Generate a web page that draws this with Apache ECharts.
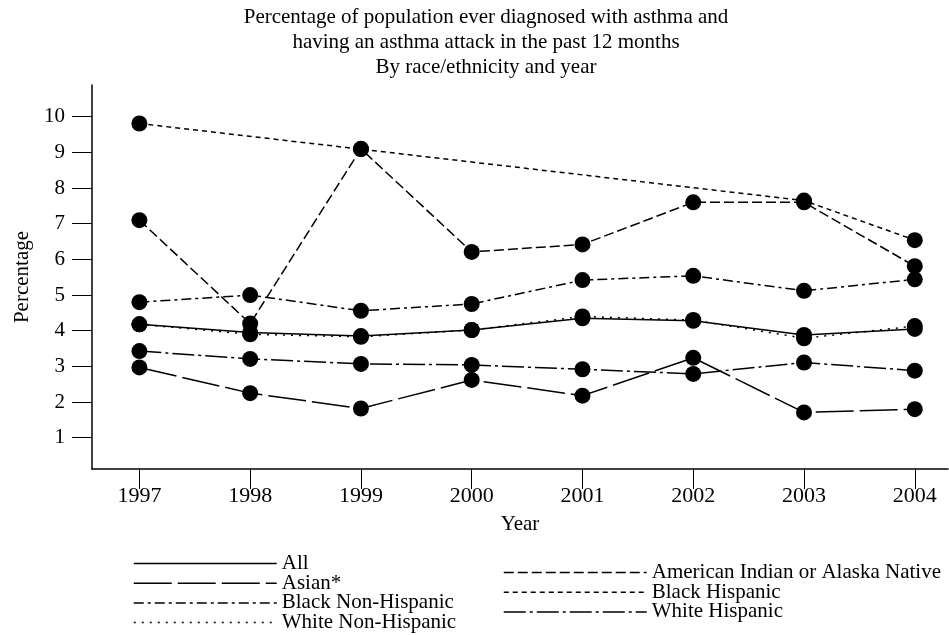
<!DOCTYPE html>
<html>
<head>
<meta charset="utf-8">
<script src="https://cdn.jsdelivr.net/npm/echarts@6/dist/echarts.min.js"></script>
<style>
  html, body { margin: 0; padding: 0; background: #fff; }
  #chart { width: 949px; height: 635px; }
</style>
</head>
<body>
<div id="chart"></div>
<script>
// Asthma attack prevalence (% of population) by race/ethnicity, 1997-2004
const years = [1997, 1998, 1999, 2000, 2001, 2002, 2003, 2004];
const yTicks = [1, 2, 3, 4, 5, 6, 7, 8, 9, 10];

const allRaces         = [4.18, 3.95, 3.85, 4.02, 4.35, 4.28, 3.88, 4.05];
const asian            = [2.97, 2.25, 1.82, 2.62, 2.18, 3.24, 1.71, 1.80];
const blackNonHispanic = [4.80, 5.00, 4.56, 4.75, 5.42, 5.54, 5.12, 5.44];
const whiteNonHispanic = [4.18, 3.90, 3.83, 4.02, 4.40, 4.30, 3.79, 4.13];
const amIndianAlaska   = [7.10, 4.20, 9.10, 6.21, 6.42, 7.60, 7.60, 5.81];
const blackHispanic    = [9.81, null, 9.09, null, null, null, 7.65, 6.54];
const whiteHispanic    = [3.43, 3.21, 3.07, 3.04, 2.92, 2.79, 3.11, 2.88];

const titleLines = [
  'Percentage of population ever diagnosed with asthma and',
  'having an asthma attack in the past 12 months',
  'By race/ethnicity and year'
];

const FONT = '"Liberation Serif", "Times New Roman", serif';
const INK = '#000';

function pairs(values) {
  return years.map((y, i) => [y, values[i]]);
}

function lineSeries(name, values, dash) {
  return {
    name: name,
    type: 'line',
    data: pairs(values),
    connectNulls: true,
    symbol: 'circle',
    symbolSize: 16,
    itemStyle: { color: INK },
    lineStyle: { color: INK, width: 1.5, type: dash },
    emphasis: { disabled: true },
    z: 3
  };
}

const series = [
  lineSeries('All', allRaces, 'solid'),
  lineSeries('Asian*', asian, [38, 6]),
  lineSeries('Black Non-Hispanic', blackNonHispanic, [10, 4, 3, 4]),
  lineSeries('White Non-Hispanic', whiteNonHispanic, [2, 6]),
  lineSeries('American Indian or Alaska Native', amIndianAlaska, [10, 4]),
  lineSeries('Black Hispanic', blackHispanic, [5, 4]),
  lineSeries('White Hispanic', whiteHispanic, [22, 4, 3, 4])
];

const legendCommon = {
  orient: 'vertical',
  padding: 0,
  height: 120,
  itemWidth: 143,
  itemHeight: 10,
  itemGap: -1.3,
  selectedMode: false,
  itemStyle: { opacity: 0 },
  lineStyle: { width: 1.5 },
  textStyle: { fontFamily: FONT, fontSize: 21, color: INK, lineHeight: 19.7 }
};

const chart = echarts.init(document.getElementById('chart'), null, { renderer: 'canvas' });
chart.setOption({
  animation: false,
  backgroundColor: '#fff',
  textStyle: { fontFamily: FONT, color: INK },
  grid: { left: 92, right: 1, top: 85, bottom: 166, outerBoundsMode: 'none' },
  graphic: [{
    type: 'text',
    x: 486,
    y: 5,
    style: {
      text: titleLines.join('\n'),
      fontFamily: FONT,
      fontSize: 21,
      lineHeight: 25,
      align: 'center',
      verticalAlign: 'top',
      fill: INK
    }
  }],
  legend: [
    Object.assign({}, legendCommon, {
      left: 133,
      top: 553,
      data: ['All', 'Asian*', 'Black Non-Hispanic', 'White Non-Hispanic']
    }),
    Object.assign({}, legendCommon, {
      left: 503,
      top: 562,
      data: ['American Indian or Alaska Native', 'Black Hispanic', 'White Hispanic']
    })
  ],
  xAxis: {
    type: 'value',
    min: 1996.572,
    max: 2004.3,
    name: 'Year',
    nameLocation: 'middle',
    nameGap: 45,
    nameTextStyle: { fontFamily: FONT, fontSize: 21, color: INK },
    axisLine: { show: true, lineStyle: { color: INK, width: 1.5 } },
    axisTick: { show: true, length: 20, customValues: years, lineStyle: { color: INK, width: 1 } },
    axisLabel: {
      customValues: years,
      margin: 16,
      fontFamily: FONT,
      fontSize: 22,
      color: INK,
      formatter: v => String(v)
    },
    splitLine: { show: false }
  },
  yAxis: {
    type: 'value',
    min: 0.123,
    max: 10.89,
    name: 'Percentage',
    nameLocation: 'middle',
    nameRotate: 90,
    nameGap: 54,
    nameTextStyle: { fontFamily: FONT, fontSize: 21, color: INK },
    axisLine: { show: true, lineStyle: { color: INK, width: 1.5 } },
    axisTick: { show: true, length: 20, customValues: yTicks, lineStyle: { color: INK, width: 1 } },
    axisLabel: {
      customValues: yTicks,
      margin: 27,
      fontFamily: FONT,
      fontSize: 21,
      color: INK
    },
    splitLine: { show: false }
  },
  series: series
});
</script>
</body>
</html>
